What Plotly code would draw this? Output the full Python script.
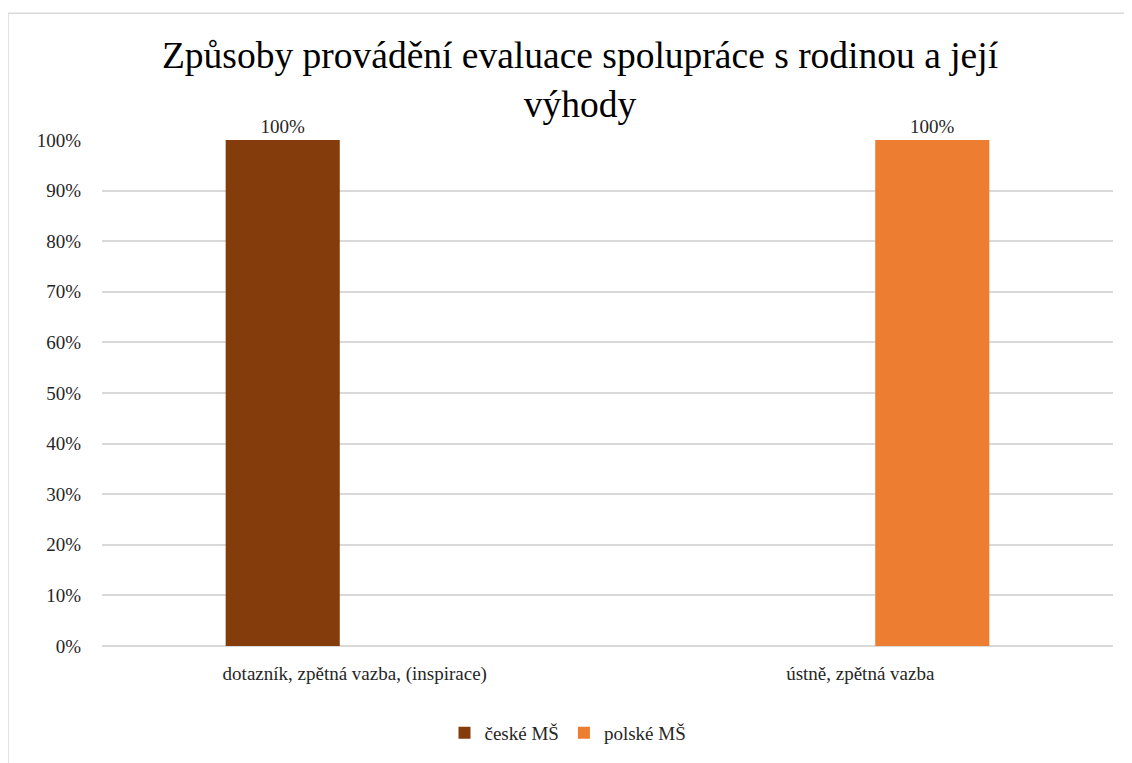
import plotly.graph_objects as go
import unicodedata

def nfc(s):
    return unicodedata.normalize("NFC", s)

categories = [nfc("dotazník, zpětná vazba, (inspirace)"), nfc("ústně, zpětná vazba")]
czech_values = [100, None]
polish_values = [None, 100]
series_names = [nfc("české MŠ"), nfc("polské MŠ")]
title_text = nfc("Způsoby provádění evaluace spolupráce s rodinou a její<br>výhody")

FONT = "Times New Roman"

fig = go.Figure()
fig.add_trace(go.Bar(
    x=categories, y=czech_values, name=series_names[0],
    marker=dict(color="#843C0C", line=dict(width=0)),
    text=[f"{v}%" if v is not None else "" for v in czech_values],
    textposition="outside", textfont=dict(size=19, color="#262626", family=FONT),
    cliponaxis=False,
))
fig.add_trace(go.Bar(
    x=categories, y=polish_values, name=series_names[1],
    marker=dict(color="#ED7D31", line=dict(width=0)),
    text=[f"{v}%" if v is not None else "" for v in polish_values],
    textposition="outside", textfont=dict(size=19, color="#262626", family=FONT),
    cliponaxis=False,
))

OFF = 8
W, H = 1132 - OFF, 763 - OFF
L, T = 102 - OFF, 140 - OFF
R = W - (1113 - OFF)
B = H - (647 - OFF)
pw, ph = W - L - R, H - T - B

fig.update_layout(
    width=W, height=H,
    margin=dict(l=L, r=R, t=T, b=B),
    paper_bgcolor="white", plot_bgcolor="white",
    barmode="group", bargap=0.43, bargroupgap=0.208,
    title=dict(text=title_text, x=(580 - OFF) / W, xanchor="center", xref="container",
               y=1 - (68 - OFF) / H, yanchor="top", yref="container",
               font=dict(size=37.5, color="#000000", family=FONT)),
    xaxis=dict(showgrid=False, showline=False, ticks="", ticklabelstandoff=14,
               tickfont=dict(size=19, color="#262626", family=FONT)),
    yaxis=dict(range=[0, 100], dtick=10, ticksuffix="%", showgrid=True, ticklabelstandoff=20,
               gridcolor="#D9D9D9", gridwidth=1.5, zeroline=True, zerolinecolor="#D9D9D9",
               zerolinewidth=1.5, showline=False, ticks="", tickfont=dict(size=19, color="#262626", family=FONT)),
    legend=dict(orientation="h", x=(568 - 102) / pw, xanchor="center",
                y=-(733 - 647) / ph, yanchor="middle",
                font=dict(size=19, color="#262626", family=FONT), itemwidth=30),
    showlegend=True,
)

fig.add_shape(type="rect", xref="paper", yref="paper",
              x0=(8 - 102) / pw, x1=(1131 - 102) / pw,
              y0=-(763 - 647 + 5) / ph, y1=1 + (140 - 13) / ph,
              line=dict(color="#D9D9D9", width=1.5), fillcolor="rgba(0,0,0,0)", layer="below")

fig.write_html("out.html")
